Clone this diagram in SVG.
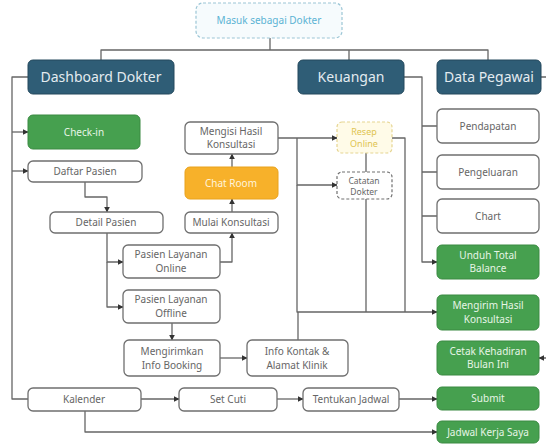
<svg xmlns="http://www.w3.org/2000/svg" width="546" height="444" viewBox="0 0 546 444">
<defs>
<marker id="ah" viewBox="0 0 10 10" refX="9" refY="5" markerWidth="6" markerHeight="6" orient="auto" markerUnits="userSpaceOnUse">
<path d="M0,0 L10,5 L0,10 z" fill="#333"/>
</marker>
<style>
.n rect{fill:#ffffff;stroke:#6f6f6f;stroke-width:1.3}
.n text{font-family:"Noto Sans","Open Sans",sans-serif;font-size:10px;fill:#666;text-anchor:middle}
.h rect{fill:#2f5d76;stroke:#24495d;stroke-width:1}
.h text{font-family:"Noto Sans","Open Sans",sans-serif;font-size:14px;fill:#e3ebf0;text-anchor:middle}
.g rect{fill:#46a04f;stroke:#3a8a42;stroke-width:1}
.g text{font-family:"Noto Sans","Open Sans",sans-serif;font-size:10px;fill:#e6f5e6;text-anchor:middle}
.o rect{fill:#f7b12a;stroke:#e9a21c;stroke-width:1}
.o text{font-family:"Noto Sans","Open Sans",sans-serif;font-size:10px;fill:#fff4dc;text-anchor:middle}
.y rect{fill:#fffbe8;stroke:#e6d592;stroke-width:1.2;stroke-dasharray:3 2}
.y text{font-family:"Noto Sans","Open Sans",sans-serif;font-size:9px;fill:#e0c452;text-anchor:middle}
.d rect{fill:#ffffff;stroke:#707070;stroke-width:1.2;stroke-dasharray:3 2}
.d text{font-family:"Noto Sans","Open Sans",sans-serif;font-size:8.5px;fill:#666;text-anchor:middle}
.t rect{fill:#f6fbfd;stroke:#9cc6d6;stroke-width:1.2;stroke-dasharray:3 2}
.t text{font-family:"Noto Sans","Open Sans",sans-serif;font-size:10px;fill:#5bb3d4;text-anchor:middle}
.c path{fill:none;stroke:#666;stroke-width:1.3;stroke-linejoin:round}
.a{marker-end:url(#ah)}
</style>
</defs>

<g class="c" id="connectors">
<path d="M270,38 V50 M101,60 V50 H488 V60 M349,50 V60"/>
<path d="M28,77 H12 V399 H28"/>
<path class="a" d="M12,132 H28"/>
<path class="a" d="M12,171 H28"/>
<path d="M404,77 H422 V216"/>
<path class="a" d="M422,216 V262 H437"/>
<path d="M422,126 H437 M422,172 H437 M422,216 H437"/>
<path class="a" d="M85,182 V197 H107 V212"/>
<path class="a" d="M107,233 V262 H123"/>
<path class="a" d="M107,262 V307 H123"/>
<path class="a" d="M220,262 H232 V233"/>
<path class="a" d="M232,212 V199"/>
<path class="a" d="M232,167 V154"/>
<path class="a" d="M172,323 V340"/>
<path class="a" d="M220,358 H247"/>
<path class="a" d="M278,138 H337"/>
<path class="a" d="M297,138 V185 H337"/>
<path class="a" d="M297,185 V312 H437"/>
<path d="M298,340 V312"/>
<path d="M366,153 V172 M366,199 V312"/>
<path d="M392,138 H405 V312"/>
<path class="a" d="M141,399 H179"/>
<path class="a" d="M277,399 H303"/>
<path class="a" d="M399,399 H437"/>
<path class="a" d="M85,411 V432 H437"/>
<path class="a" d="M541,77 H549 V358 H539"/>
</g>

<g id="masuk" class="t"><rect x="196" y="3" width="146" height="35" rx="7"/><text x="269" y="24">Masuk sebagai Dokter</text></g>

<g id="dashboard" class="h"><rect x="28" y="60" width="146" height="34" rx="5"/><text x="101" y="82">Dashboard Dokter</text></g>
<g id="keuangan" class="h"><rect x="298" y="60" width="106" height="34" rx="5"/><text x="351" y="82">Keuangan</text></g>
<g id="datapegawai" class="h"><rect x="437" y="60" width="104" height="34" rx="5"/><text x="489" y="82">Data Pegawai</text></g>

<g id="checkin" class="g"><rect x="28" y="115" width="112" height="34" rx="5"/><text x="84" y="136">Check-in</text></g>
<g id="daftarpasien" class="n"><rect x="28" y="161" width="114" height="21" rx="5"/><text x="85" y="175">Daftar Pasien</text></g>
<g id="detailpasien" class="n"><rect x="50" y="212" width="113" height="21" rx="5"/><text x="106" y="226">Detail Pasien</text></g>

<g id="mengisi" class="n"><rect x="185" y="122" width="93" height="32" rx="5"/><text x="231" y="135">Mengisi Hasil</text><text x="231" y="148">Konsultasi</text></g>
<g id="chatroom" class="o"><rect x="185" y="167" width="93" height="32" rx="5"/><text x="231" y="187">Chat Room</text></g>
<g id="mulai" class="n"><rect x="185" y="212" width="93" height="21" rx="5"/><text x="231" y="226">Mulai Konsultasi</text></g>

<g id="online" class="n"><rect x="123" y="245" width="97" height="33" rx="5"/><text x="171" y="258">Pasien Layanan</text><text x="171" y="272">Online</text></g>
<g id="offline" class="n"><rect x="123" y="290" width="97" height="33" rx="5"/><text x="171" y="303">Pasien Layanan</text><text x="171" y="317">Offline</text></g>
<g id="mengirimkan" class="n"><rect x="124" y="340" width="96" height="36" rx="5"/><text x="172" y="355">Mengirimkan</text><text x="172" y="369">Info Booking</text></g>
<g id="infokontak" class="n"><rect x="247" y="340" width="101" height="36" rx="5"/><text x="297" y="355">Info Kontak &amp;</text><text x="297" y="369">Alamat Klinik</text></g>

<g id="resep" class="y"><rect x="337" y="122" width="55" height="31" rx="5"/><text x="364" y="135">Resep</text><text x="364" y="147">Online</text></g>
<g id="catatan" class="d"><rect x="337" y="172" width="55" height="27" rx="5"/><text x="364" y="184">Catatan</text><text x="364" y="195">Dokter</text></g>

<g id="pendapatan" class="n"><rect x="437" y="109" width="102" height="34" rx="5"/><text x="488" y="130">Pendapatan</text></g>
<g id="pengeluaran" class="n"><rect x="437" y="155" width="102" height="34" rx="5"/><text x="488" y="176">Pengeluaran</text></g>
<g id="chart" class="n"><rect x="437" y="199" width="102" height="34" rx="5"/><text x="488" y="220">Chart</text></g>
<g id="unduh" class="g"><rect x="437" y="245" width="102" height="34" rx="5"/><text x="488" y="259">Unduh Total</text><text x="488" y="272">Balance</text></g>
<g id="mengirimhasil" class="g"><rect x="437" y="295" width="102" height="35" rx="5"/><text x="488" y="309">Mengirim Hasil</text><text x="488" y="323">Konsultasi</text></g>
<g id="cetak" class="g"><rect x="437" y="341" width="102" height="34" rx="5"/><text x="488" y="355">Cetak Kehadiran</text><text x="488" y="368">Bulan Ini</text></g>
<g id="submit" class="g"><rect x="437" y="387" width="102" height="23" rx="5"/><text x="488" y="402">Submit</text></g>
<g id="jadwalkerja" class="g"><rect x="437" y="421" width="102" height="22" rx="5"/><text x="488" y="436">Jadwal Kerja Saya</text></g>

<g id="kalender" class="n"><rect x="28" y="388" width="113" height="23" rx="5"/><text x="84" y="403">Kalender</text></g>
<g id="setcuti" class="n"><rect x="179" y="388" width="98" height="23" rx="5"/><text x="228" y="403">Set Cuti</text></g>
<g id="tentukan" class="n"><rect x="303" y="388" width="96" height="23" rx="5"/><text x="351" y="403">Tentukan Jadwal</text></g>
</svg>
